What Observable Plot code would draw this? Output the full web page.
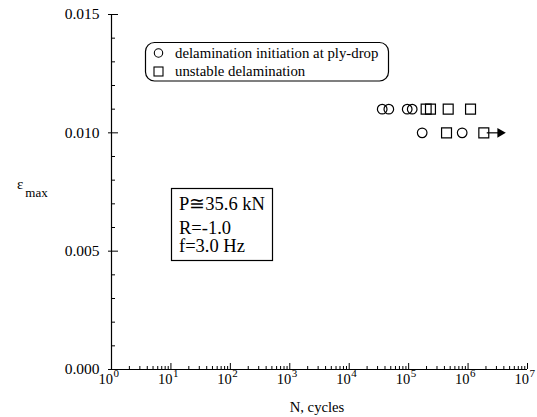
<!DOCTYPE html>
<html>
<head>
<meta charset="utf-8">
<script src="https://cdn.jsdelivr.net/npm/d3@7"></script>
<script src="https://cdn.jsdelivr.net/npm/@observablehq/plot@0.6"></script>
<style>
  html, body { margin: 0; padding: 0; background: #fff; }
  #chart svg { display: block; }
</style>
</head>
<body>
<div id="chart"></div>
<script>
// Delamination initiation at ply-drop (circles)
const initN   = [35900, 46400, 94600, 114800, 169000, 796000];
const initEps = [0.011, 0.011, 0.011, 0.011, 0.010, 0.010];
// Unstable delamination (squares)
const unstN   = [197000, 233000, 463000, 1100000, 434000, 1840000];
const unstEps = [0.011, 0.011, 0.011, 0.011, 0.010, 0.010];
// Run-out (arrow) from last square
const runoutFrom = [1840000];
const runoutTo   = [3900000];
const runoutEps  = [0.010];

const decades = [0, 1, 2, 3, 4, 5, 6, 7];
const yMajor = [0, 0.005, 0.010, 0.015];
const yMinor = [0.001, 0.002, 0.003, 0.004, 0.006, 0.007, 0.008, 0.009, 0.011, 0.012, 0.013, 0.014];
const yTickLabels = ["0.000", "0.005", "0.010", "0.015"];
const legendLabels = ["delamination initiation at ply-drop", "unstable delamination"];
const paramLines = ["P\u224535.6 kN", "R=-1.0", "f=3.0 Hz"];

const init = initN.map((n, i) => ({n, eps: initEps[i]}));
const unst = unstN.map((n, i) => ({n, eps: unstEps[i]}));
const runout = runoutFrom.map((n, i) => ({n1: n * 1.12, n2: runoutTo[i], eps: runoutEps[i]}));
const xMinor = [];
for (let d = 0; d < 7; d++) for (let m = 2; m <= 9; m++) xMinor.push(m * 10 ** d);

const W = 537, H = 417, mL = 111, mR = 10, mT = 14, mB = 48;
const frameH = H - mT - mB, frameW = W - mL - mR;
const font = "'Liberation Serif', 'Times New Roman', serif";

const plot = Plot.plot({
  width: W, height: H,
  marginLeft: mL, marginRight: mR, marginTop: mT, marginBottom: mB,
  style: {fontFamily: font, background: "#fff", color: "#000", overflow: "visible"},
  x: {type: "log", domain: [1, 1e7], axis: null},
  y: {domain: [0, 0.015], axis: null},
  marks: [
    // axis lines
    Plot.ruleX([1], {stroke: "#000", strokeWidth: 1.2}),
    Plot.ruleY([0], {stroke: "#000", strokeWidth: 1.2}),
    // y ticks
    Plot.tickY(yMinor, {y: d => d, stroke: "#000", insetRight: frameW - 4}),
    Plot.tickY(yMajor, {y: d => d, stroke: "#000", insetLeft: -3, insetRight: frameW - 7}),
    Plot.text(yMajor, {y: d => d, text: (d, i) => yTickLabels[i], frameAnchor: "left", textAnchor: "end", dx: -12, fontSize: 15.5}),
    // x ticks
    Plot.tickX(xMinor, {x: d => d, stroke: "#000", insetTop: frameH - 3}),
    Plot.tickX(decades, {x: d => 10 ** d, stroke: "#000", insetTop: frameH - 6}),
    Plot.text(decades, {x: d => 10 ** d, frameAnchor: "bottom", text: () => "10", textAnchor: "end", dx: 1.5, dy: 14, fontSize: 14.5}),
    Plot.text(decades, {x: d => 10 ** d, frameAnchor: "bottom", text: d => String(d), textAnchor: "start", dx: 2, dy: 7, fontSize: 11}),
    // data
    Plot.link(runout, {x1: "n1", x2: "n2", y1: "eps", y2: "eps", stroke: "#000", strokeWidth: 1.2}),
    Plot.dot(runout, {x: "n2", y: "eps", symbol: "triangle", rotate: 90, r: 3.6, fill: "#000", stroke: "none", dx: -3}),
    Plot.dot(init, {x: "n", y: "eps", symbol: "circle", r: 4.8, stroke: "#000", strokeWidth: 1.2, fill: "none"}),
    Plot.dot(unst, {x: "n", y: "eps", symbol: "square", r: 5.6, stroke: "#000", strokeWidth: 1.2, fill: "none"})
  ]
});

const svg = d3.select(plot);
// axis titles
const yl = svg.append("text").attr("font-family", font).attr("text-anchor", "start").attr("x", 17).attr("y", 189);
yl.append("tspan").attr("font-size", 15).text("\u03b5");
yl.append("tspan").attr("font-size", 13).attr("dx", 2).attr("dy", 8).text("max");
svg.append("text").attr("font-family", font).attr("font-size", 14.7).attr("text-anchor", "middle")
  .attr("x", 317).attr("y", 412).text("N, cycles");

// legend box
const lg = svg.append("g").attr("font-family", font).attr("text-anchor", "start");
lg.append("rect").attr("x", 145.5).attr("y", 42.5).attr("width", 243).attr("height", 38.5).attr("rx", 9)
  .attr("fill", "#fff").attr("stroke", "#000").attr("stroke-width", 1.2);
lg.append("circle").attr("cx", 158.5).attr("cy", 53).attr("r", 4.2).attr("fill", "none").attr("stroke", "#000").attr("stroke-width", 1.1);
lg.append("rect").attr("x", 154).attr("y", 67).attr("width", 9).attr("height", 9).attr("fill", "none").attr("stroke", "#000").attr("stroke-width", 1.1);
legendLabels.forEach((t, i) => lg.append("text").attr("x", 175).attr("y", 57.5 + i * 18.3).attr("font-size", 14.8).text(t));

// parameter box
const pb = svg.append("g").attr("font-family", font).attr("text-anchor", "start");
pb.append("rect").attr("x", 171.5).attr("y", 188.5).attr("width", 101).attr("height", 72)
  .attr("fill", "#fff").attr("stroke", "#000").attr("stroke-width", 1.2);
[210, 234, 252].forEach((y, i) => pb.append("text").attr("x", 179).attr("y", y).attr("font-size", 18.5).text(paramLines[i]));

document.getElementById("chart").appendChild(plot);
</script>
</body>
</html>
